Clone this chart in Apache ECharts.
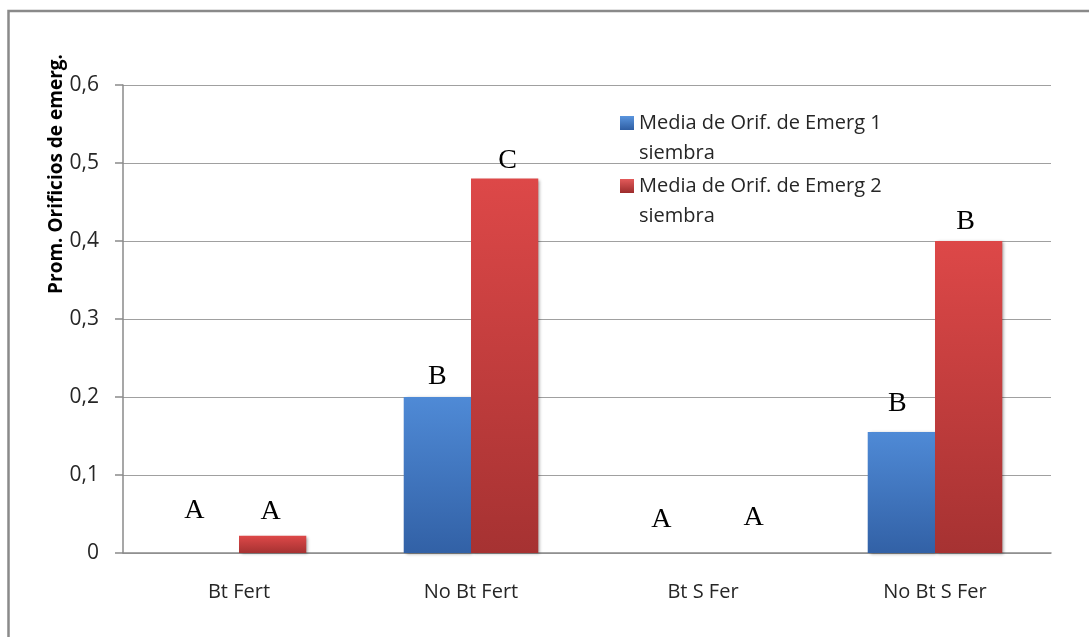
<!DOCTYPE html>
<html>
<head>
<meta charset="utf-8">
<script src="https://cdn.jsdelivr.net/npm/echarts@6/dist/echarts.min.js"></script>
<style>
  html, body { margin: 0; padding: 0; background: #fff; }
  #chart { width: 1089px; height: 637px; }
</style>
</head>
<body>
<div id="chart"></div>
<script>
// Categories and series values
const categories = ['Bt Fert', 'No Bt Fert', 'Bt S Fer', 'No Bt S Fer'];
const siembra1 = [0, 0.2, 0, 0.155];
const siembra2 = [0.022, 0.48, 0, 0.40];
// Significance letters above each bar
const letters1 = ['A', 'B', 'A', 'B'];
const letters2 = ['A', 'C', 'A', 'B'];
const seriesNames = ['Media de Orif. de Emerg 1\nsiembra', 'Media de Orif. de Emerg 2\nsiembra'];
const yTicks = { min: 0, max: 0.6, interval: 0.1 };

// Small per-letter nudges so letters sit where the author placed them
const nudge1 = [[-11, -28], [0, -6], [-8, -19], [-4, -14]];
const nudge2 = [[-2, -10], [3, -4], [17, -21], [-3, -5]];

const FONT = 'Open Sans';

function gradient(top, bottom) {
  return new echarts.graphic.LinearGradient(0, 0, 0, 1, [
    { offset: 0, color: top },
    { offset: 1, color: bottom }
  ]);
}

function makeData(values, letters, nudges) {
  return values.map((v, i) => ({
    value: v,
    label: { formatter: letters[i], offset: nudges[i] }
  }));
}

const letterLabel = {
  show: true,
  position: 'top',
  distance: 0,
  fontFamily: 'Liberation Serif',
  fontSize: 28,
  color: '#000'
};

const chart = echarts.init(document.getElementById('chart'), null, { renderer: 'canvas' });

chart.setOption({
  animation: false,
  backgroundColor: '#fff',
  grid: { left: 123, right: 38, top: 85, bottom: 84, containLabel: false },
  legend: {
    orient: 'vertical',
    left: 615,
    top: 73,
    itemWidth: 14,
    itemHeight: 14,
    itemGap: -27,
    icon: 'rect',
    // leading blank line keeps the first text line level with the swatch
    formatter: name => '\n' + name,
    textStyle: {
      fontFamily: FONT,
      fontSize: 20,
      lineHeight: 30,
      color: '#262626'
    },
    data: [
      { name: seriesNames[0], itemStyle: { color: gradient('#5a95de', '#2f5ea3') } },
      { name: seriesNames[1], itemStyle: { color: gradient('#e35a5a', '#9c2c2c') } }
    ]
  },
  graphic: [
    {
      type: 'rect',
      shape: { x: 8.5, y: 11, width: 1300, height: 800 },
      style: { fill: 'none', stroke: '#8a8a8a', lineWidth: 2.5 },
      silent: true
    },
    {
      type: 'text',
      x: 57,
      y: 174,
      rotation: Math.PI / 2,
      style: {
        text: 'Prom. Orificios de emerg.',
        font: 'bold 19px "Open Sans"',
        fill: '#000',
        textAlign: 'center',
        textVerticalAlign: 'middle'
      }
    }
  ],
  xAxis: {
    type: 'category',
    data: categories,
    axisLine: { lineStyle: { color: '#8a8a8a', width: 1.5 } },
    axisTick: { length: 10, lineStyle: { color: '#8a8a8a', width: 1.5 } },
    axisLabel: { fontFamily: FONT, fontSize: 20, color: '#262626', margin: 29 }
  },
  yAxis: {
    type: 'value',
    min: yTicks.min,
    max: yTicks.max,
    interval: yTicks.interval,
    axisLine: { show: true, lineStyle: { color: '#8a8a8a', width: 1.5 } },
    axisTick: { show: true, length: 8, lineStyle: { color: '#8a8a8a', width: 1.5 } },
    splitLine: { lineStyle: { color: '#a0a0a0', width: 1.2 } },
    axisLabel: {
      fontFamily: FONT,
      fontSize: 21,
      color: '#262626',
      margin: 24,
      formatter: v => (v === 0 ? '0' : v.toFixed(1).replace('.', ','))
    }
  },
  series: [
    {
      name: seriesNames[0],
      type: 'bar',
      barGap: 0,
      barCategoryGap: '42%',
      data: makeData(siembra1, letters1, nudge1),
      label: letterLabel,
      itemStyle: {
        color: gradient('#4f8ad6', '#3261a6'),
        shadowColor: 'rgba(0,0,0,0.35)',
        shadowBlur: 3,
        shadowOffsetX: 2,
        shadowOffsetY: 1
      }
    },
    {
      name: seriesNames[1],
      type: 'bar',
      barGap: 0,
      barCategoryGap: '42%',
      data: makeData(siembra2, letters2, nudge2),
      label: letterLabel,
      itemStyle: {
        color: gradient('#dd4848', '#a63232'),
        shadowColor: 'rgba(0,0,0,0.35)',
        shadowBlur: 3,
        shadowOffsetX: 2,
        shadowOffsetY: 1
      }
    }
  ]
});
</script>
</body>
</html>
